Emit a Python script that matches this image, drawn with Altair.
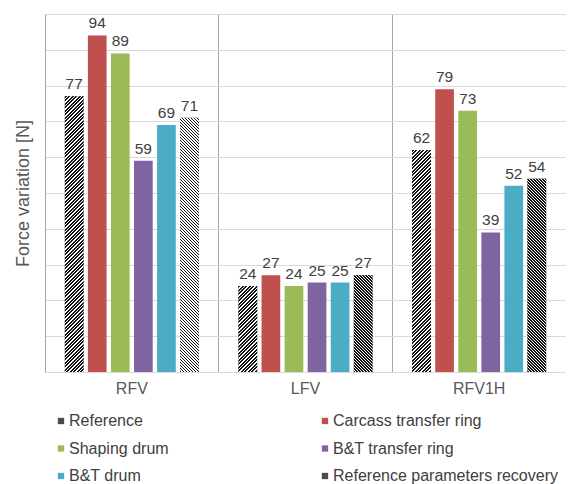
import altair as alt
import pandas as pd

categories = ["RFV", "LFV", "RFV1H"]
series = ["Reference", "Carcass transfer ring", "Shaping drum",
          "B&T transfer ring", "B&T drum", "Reference parameters recovery"]
ref_vals = [77, 24, 62]
carcass_vals = [94, 27, 79]
shaping_vals = [89, 24, 73]
bt_ring_vals = [59, 25, 39]
bt_drum_vals = [69, 25, 52]
recovery_vals = [71, 27, 54]
series_colors = {"Reference": "#4a4a4a", "Carcass transfer ring": "#C0504D",
                 "Shaping drum": "#9BBB59", "B&T transfer ring": "#8064A2",
                 "B&T drum": "#4BACC6", "Reference parameters recovery": "#4a4a4a"}
# legend is laid out column by column
legend_order = ["Reference", "Shaping drum", "B&T drum",
                "Carcass transfer ring", "B&T transfer ring", "Reference parameters recovery"]

all_vals = [ref_vals, carcass_vals, shaping_vals, bt_ring_vals, bt_drum_vals, recovery_vals]
rows = []
for s, vals in zip(series, all_vals):
    for c, v in zip(categories, vals):
        rows.append({"category": c, "series": s, "value": v})
df = pd.DataFrame(rows)

# layout
W, H = 521, 358
PAD_IN, PAD_OUT = 0.19, 0.86
band = W / len(categories)
step = band / (len(series) - PAD_IN + 2 * PAD_OUT)
bar_w = step * (1 - PAD_IN)
YMAX = 100


def hatch(value, period, direction, frac=0.6, dark="#111111", light="#ffffff"):
    w = bar_w
    h = value / YMAX * H
    L = w + h
    k = L / (w * w + h * h)
    stops = []
    pos = 0.0
    while pos < L:
        a = pos / L
        b = min((pos + period * frac) / L, 1.0)
        c = min((pos + period) / L, 1.0)
        stops += [{"offset": a, "color": dark}, {"offset": b, "color": dark},
                  {"offset": b, "color": light}, {"offset": c, "color": light}]
        pos += period
    if direction == "/":
        return {"gradient": "linear", "x1": 0, "y1": 0, "x2": w * k, "y2": h * k, "stops": stops}
    return {"gradient": "linear", "x1": 0, "y1": 1, "x2": w * k, "y2": 1 - h * k, "stops": stops}


x_enc = alt.X("category:N", sort=categories,
              scale=alt.Scale(paddingInner=0, paddingOuter=0),
              axis=alt.Axis(title=None, ticks=False, labelFontSize=16, labelColor="#595959",
                            labelFont="Liberation Sans", labelPadding=8, labelAngle=0,
                            domainColor="#d9d9d9", grid=True, gridColor="#a6a6a6",
                            bandPosition=0))
xo_enc = alt.XOffset("series:N", sort=series,
                     scale=alt.Scale(domain=series, paddingInner=PAD_IN, paddingOuter=PAD_OUT))
y_enc = alt.Y("value:Q", scale=alt.Scale(domain=[0, YMAX], nice=False),
              axis=alt.Axis(title="Force variation [N]", titleFontSize=18, titleColor="#595959",
                            titleFont="Liberation Sans", titleFontWeight="normal", titlePadding=13,
                            labels=False, ticks=False, values=list(range(0, 101, 10)),
                            domainColor="#a6a6a6", gridColor="#d9d9d9"))

base = alt.Chart(df)

bars = base.mark_bar().encode(
    x=x_enc, xOffset=xo_enc, y=y_enc,
    color=alt.Color("series:N", sort=legend_order,
                    scale=alt.Scale(domain=legend_order,
                                    range=[series_colors[s] for s in legend_order]),
                    legend=alt.Legend(title=None, orient="none", legendX=8, legendY=399,
                                      columns=2, columnPadding=148, rowPadding=11.5,
                                      symbolType="square", symbolSize=40, symbolStrokeWidth=0,
                                      labelFontSize=16, labelColor="#404040",
                                      labelFont="Liberation Sans", labelOffset=0,
                                      labelLimit=300, padding=0)),
)

layers = [bars]
for s, vals, period, d in [("Reference", ref_vals, 3.5, "/"),
                           ("Reference parameters recovery", recovery_vals, 3, "\\")]:
    for c, v in zip(categories, vals):
        layers.append(
            base.transform_filter(
                (alt.datum.series == s) & (alt.datum.category == c)
            ).mark_bar(fill=hatch(v, period, d)).encode(x=x_enc, xOffset=xo_enc, y=y_enc)
        )

labels = base.mark_text(baseline="bottom", dy=-4, fontSize=15.5, color="#404040",
                        font="Liberation Sans").encode(
    x=x_enc, xOffset=xo_enc, y=y_enc, text="value:Q")
layers.append(labels)

chart = alt.layer(*layers).properties(
    width=W, height=H,
    padding={"left": 6, "top": 6, "right": 0, "bottom": 0},
).configure_view(stroke=None)

chart.save("out.html", embed_options={"renderer": "svg", "actions": False})
